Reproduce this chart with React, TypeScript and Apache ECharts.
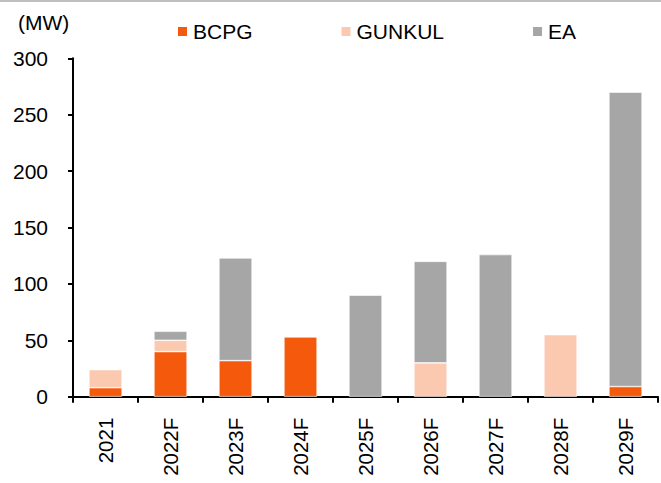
import React, { useEffect, useRef } from "react";
import * as echarts from "echarts";

const categories = ["2021", "2022F", "2023F", "2024F", "2025F", "2026F", "2027F", "2028F", "2029F"];
const bcpg = [8, 40, 32, 53, 0, 0, 0, 0, 9];
const gunkul = [16, 10, 0, 0, 0, 30, 0, 55, 0];
const ea = [0, 8, 91, 0, 90, 90, 126, 0, 261];
const yTicks = [0, 50, 100, 150, 200, 250, 300];

const FONT = "'Liberation Sans', Arial, sans-serif";

export default function App() {
  const ref = useRef<HTMLDivElement>(null);
  useEffect(() => {
    if (!ref.current) return;
    const chart = echarts.init(ref.current, null, { renderer: "svg" });
    const mk = (name: string, data: number[], color: string) => ({
      name,
      type: "bar",
      stack: "total",
      data: data.map((v) => (v === 0 ? "-" : v)),
      barWidth: "51%",
      itemStyle: { color, borderColor: "#ffffff", borderWidth: 0.6 },
    });
    chart.setOption({
      animation: false,
      backgroundColor: "#ffffff",
      textStyle: { fontFamily: FONT },
      grid: { left: 73, right: 3, top: 58.3, bottom: 86.3, containLabel: false },
      legend: {
        left: 176,
        top: 21,
        padding: 0,
        itemWidth: 11,
        itemHeight: 11,
        itemGap: 87,
        icon: "rect",
        textStyle: { fontSize: 21, color: "#000", fontFamily: FONT },
        data: ["BCPG", "GUNKUL", "EA"],
      },
      graphic: [
        { type: "rect", shape: { x: 0, y: 0, width: 661, height: 2 }, style: { fill: "#bfbfbf" } },
        {
          type: "text",
          left: 18,
          top: 12,
          style: { text: "(MW)", fontSize: 21, fill: "#000", fontFamily: FONT },
        },
      ],
      xAxis: {
        type: "category",
        data: categories,
        axisLine: { lineStyle: { color: "#000", width: 2 } },
        axisTick: { show: true, length: 6, lineStyle: { color: "#000", width: 2 }, alignWithLabel: false },
        axisLabel: { rotate: 90, margin: 21, fontSize: 20.5, color: "#000", fontFamily: FONT, interval: 0 },
      },
      yAxis: {
        type: "value",
        min: yTicks[0],
        max: yTicks[yTicks.length - 1],
        interval: 50,
        splitLine: { show: false },
        axisLine: { show: true, lineStyle: { color: "#000", width: 2 } },
        axisTick: { show: true, length: 5, lineStyle: { color: "#000", width: 2 } },
        axisLabel: { margin: 25, fontSize: 21, color: "#000", fontFamily: FONT },
      },
      series: [mk("BCPG", bcpg, "#F55A0C"), mk("GUNKUL", gunkul, "#FBC9B0"), mk("EA", ea, "#A6A6A6")],
    });
    return () => chart.dispose();
  }, []);
  return <div ref={ref} style={{ position: "fixed", left: 0, top: 0, width: 661, height: 483 }} />;
}
